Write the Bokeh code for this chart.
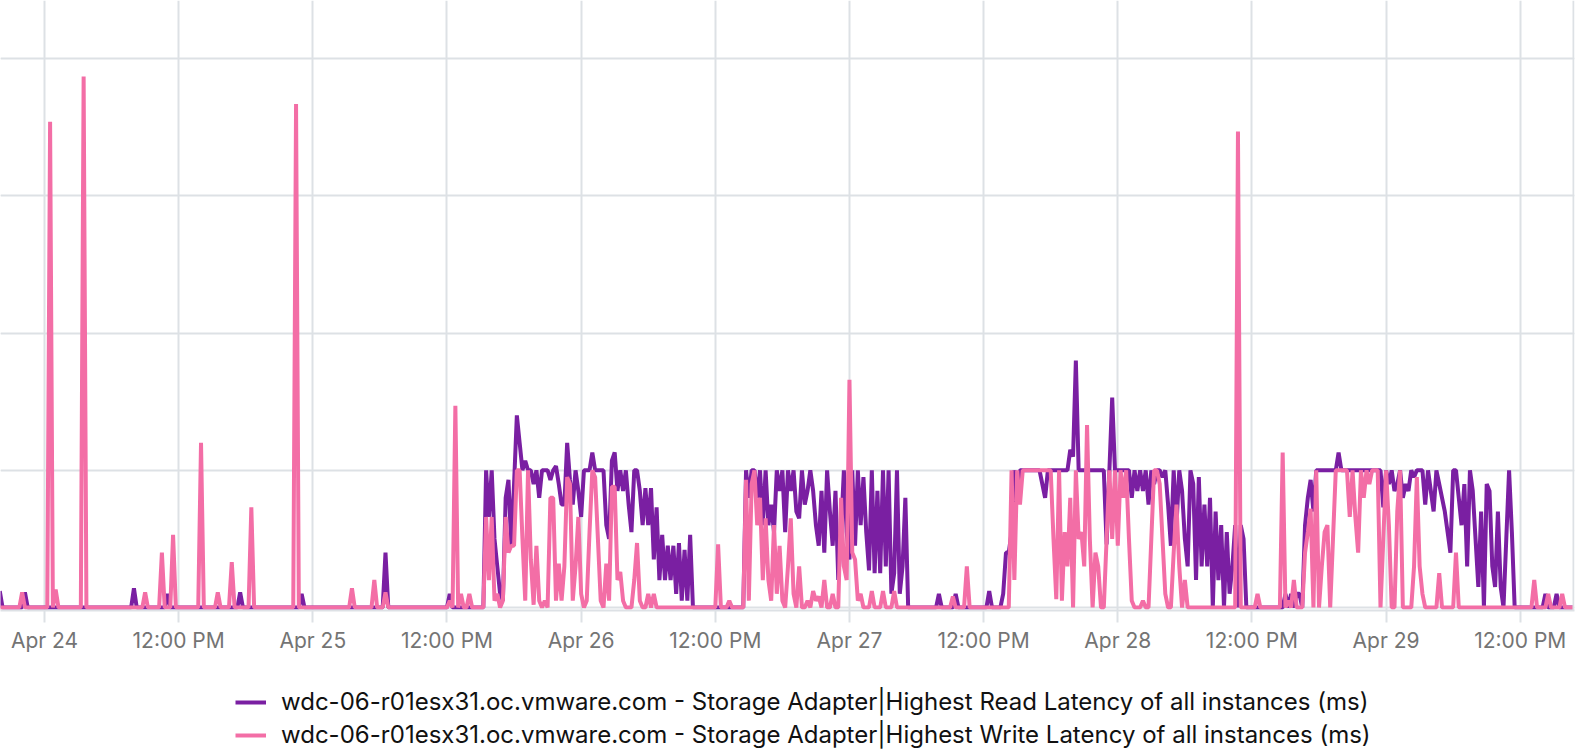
from datetime import datetime, timedelta
from bokeh.plotting import figure
from bokeh.layouts import column
from bokeh.models import ColumnDataSource, FixedTicker, Grid, Legend, LegendItem, Range1d, Span
from bokeh.embed import file_html
from bokeh.resources import INLINE

# ---------------- data (15-minute samples, grid unit = 1) ----------------
HOST = "wdc-06-r01esx31.oc.vmware.com"
read_label = HOST + " - Storage Adapter|Highest Read Latency of all instances (ms)"
write_label = HOST + " - Storage Adapter|Highest Write Latency of all instances (ms)"

tick_labels = ["Apr 24", "12:00 PM", "Apr 25", "12:00 PM", "Apr 26", "12:00 PM",
               "Apr 27", "12:00 PM", "Apr 28", "12:00 PM", "Apr 29", "12:00 PM"]

# Apr 23, from 20:00
read_apr23 = [0.12, 0, 0, 0, 0, 0, 0, 0, 0, 0.11, 0, 0, 0, 0, 0, 0]
write_apr23 = [0, 0, 0, 0, 0, 0, 0, 0, 0.11, 0, 0, 0, 0, 0, 0, 0]

read_apr24 = [
    0, 0, 0, 0, 0, 0, 0, 0, 0, 0, 0, 0, 0, 0, 0, 0,
    0, 0, 0, 0, 0, 0, 0, 0, 0, 0, 0, 0, 0, 0, 0, 0,
    0.14, 0, 0, 0, 0, 0, 0, 0, 0, 0, 0, 0, 0.1, 0, 0, 0,
    0, 0, 0, 0, 0, 0, 0, 0, 0, 0, 0, 0, 0, 0, 0, 0,
    0, 0, 0, 0, 0, 0, 0.11, 0, 0, 0, 0, 0, 0, 0, 0, 0,
    0, 0, 0, 0, 0, 0, 0, 0, 0, 0, 0, 0, 0.1, 0, 0, 0]
write_apr24 = [
    0, 0, 3.54, 0, 0.13, 0, 0, 0, 0, 0, 0, 0, 0, 0, 3.87, 0,
    0, 0, 0, 0, 0, 0, 0, 0, 0, 0, 0, 0, 0, 0, 0, 0,
    0, 0, 0, 0, 0.11, 0, 0, 0, 0, 0, 0.4, 0, 0, 0, 0.53, 0,
    0, 0, 0, 0, 0, 0, 0, 0, 1.2, 0, 0, 0, 0, 0, 0.11, 0,
    0, 0, 0, 0.33, 0, 0, 0, 0, 0, 0, 0.73, 0, 0, 0, 0, 0,
    0, 0, 0, 0, 0, 0, 0, 0, 0, 0, 3.67, 0, 0, 0, 0, 0]

read_apr25 = [
    0, 0, 0, 0, 0, 0, 0, 0, 0, 0, 0, 0, 0, 0, 0, 0,
    0, 0, 0, 0, 0, 0, 0, 0, 0, 0, 0.4, 0, 0, 0, 0, 0,
    0, 0, 0, 0, 0, 0, 0, 0, 0, 0, 0, 0, 0, 0, 0, 0,
    0, 0.1, 0, 0, 0, 0, 0, 0, 0, 0, 0, 0, 0, 0, 1.0, 0.66,
    1.0, 0.5, 0.3, 0.1, 0.05, 0.8, 0.93, 0.45, 0.9, 1.4, 1.2, 1.0, 1.07, 1.0, 1.0, 0.9,
    1.0, 0.8, 1.0, 1.0, 1.0, 0.93, 1.0, 1.03, 0.9, 0.75, 0.75, 1.2, 0.93, 0.75, 1.0, 0.85]
write_apr25 = [
    0, 0, 0, 0, 0, 0, 0, 0, 0, 0, 0, 0, 0, 0, 0.14, 0,
    0, 0, 0, 0, 0, 0, 0.2, 0, 0, 0, 0.11, 0, 0, 0, 0, 0,
    0, 0, 0, 0, 0, 0, 0, 0, 0, 0, 0, 0, 0, 0, 0, 0,
    0, 0.05, 0, 1.47, 0, 0.1, 0, 0, 0.1, 0, 0, 0, 0, 0, 0.66, 0.2,
    0.66, 0.05, 0.1, 0, 0.05, 0.66, 0.4, 0.45, 0.45, 1.0, 1.0, 0.5, 0.05, 1.0, 0.35, 0.02,
    0.45, 0.05, 0, 0.05, 0, 0.8, 0.8, 0.05, 0.32, 0.05, 0.3, 0.95, 0.9, 0.05, 0.3, 0.66]

read_apr26 = [
    0.66, 1.0, 1.0, 1.0, 1.13, 1.0, 1.0, 1.0, 1.0, 0.6, 0.5, 1.07, 1.13, 0.85, 1.0, 0.85,
    1.0, 0.75, 0.55, 1.0, 1.0, 0.85, 0.6, 0.87, 0.6, 0.87, 0.35, 0.73, 0.2, 0.53, 0.2, 0.45,
    0.2, 0.45, 0.1, 0.47, 0.05, 0.42, 0.05, 0.53, 0, 0, 0, 0, 0, 0, 0, 0,
    0, 0, 0, 0, 0, 0, 0, 0, 0, 0, 0, 1.0, 0.8, 1.0, 1.0, 0.8,
    1.0, 0.6, 1.0, 0.6, 0.75, 0.55, 1.0, 0.85, 1.0, 0.55, 1.0, 0.85, 1.0, 0.7, 0.65, 1.0,
    0.75, 0.85, 1.0, 0.85, 0.6, 0.45, 0.85, 0.4, 1.0, 0.7, 0.45, 0.85, 0.2, 0.55, 1.0, 0.55]
write_apr26 = [
    0.1, 0, 0.05, 0.55, 1.0, 0.95, 0.5, 0.05, 0, 0.32, 0.05, 0.88, 0.88, 0.2, 0.26, 0.05,
    0, 0, 0, 0.2, 0.47, 0.05, 0, 0, 0.1, 0, 0.1, 0, 0, 0, 0, 0,
    0, 0, 0, 0, 0, 0, 0, 0, 0, 0, 0, 0, 0, 0, 0, 0,
    0, 0.46, 0, 0, 0, 0.05, 0, 0, 0, 0, 0, 0.93, 0.05, 0.9, 1.0, 0.6,
    0.8, 0.2, 0.65, 0.2, 0.05, 0.6, 0.1, 0.45, 0.05, 0, 0.3, 0.65, 0.1, 0, 0.3, 0,
    0, 0.05, 0, 0.12, 0.05, 0.08, 0, 0.2, 0, 0, 0.1, 0, 0, 0.8, 0.3, 0.2]

read_apr27 = [
    0.35, 1.0, 0.45, 1.0, 0.6, 0.95, 0.55, 0.27, 1.0, 0.25, 0.85, 0.25, 1.0, 0.3, 1.0, 0.1,
    0.25, 1.0, 0.1, 0.3, 0.8, 0, 0, 0, 0, 0, 0, 0, 0, 0, 0, 0,
    0.1, 0, 0, 0, 0, 0, 0.1, 0, 0, 0, 0, 0, 0, 0, 0, 0,
    0, 0, 0.12, 0, 0, 0, 0, 0.1, 0.4, 0.4, 0.55, 1.0, 0.85, 1.0, 1.0, 1.0,
    1.0, 1.0, 1.0, 1.0, 1.0, 0.9, 0.8, 1.0, 1.0, 1.0, 1.0, 1.0, 1.0, 1.0, 1.0, 1.15,
    1.1, 1.8, 1.0, 1.0, 1.0, 1.0, 1.0, 1.0, 1.0, 1.0, 1.0, 1.0, 0.46, 1.0, 1.53, 1.0]
write_apr27 = [
    1.66, 0.4, 0.35, 0.05, 0.1, 0, 0, 0, 0.12, 0, 0, 0, 0.12, 0, 0, 0,
    0.12, 0, 0, 0, 0, 0, 0, 0, 0, 0, 0, 0, 0, 0, 0, 0,
    0, 0, 0, 0, 0, 0.08, 0, 0, 0, 0, 0.3, 0, 0, 0, 0, 0,
    0, 0, 0, 0, 0, 0, 0, 0, 0, 0, 1.0, 0.2, 1.0, 0.75, 1.0, 1.0,
    1.0, 1.0, 1.0, 1.0, 1.0, 1.0, 1.0, 1.0, 1.0, 0.5, 0.06, 1.0, 0.05, 0.55, 0.3, 0.8,
    0, 1.0, 0.5, 0.55, 0.3, 1.33, 0.5, 0, 0.4, 0.3, 0, 0, 0.5, 1.0, 0.5, 1.0]

read_apr28 = [
    1.0, 1.0, 1.0, 1.0, 1.0, 0.8, 1.0, 0.85, 1.0, 0.85, 1.0, 0.75, 1.0, 0.9, 1.0, 1.0,
    0.95, 1.0, 0.75, 0.45, 1.0, 0.6, 1.0, 0.85, 0.5, 0.3, 1.0, 0.9, 0.2, 0.95, 0.3, 0.75,
    0.3, 0.8, 0, 0.7, 0.2, 0.6, 0, 0.55, 0.1, 0.3, 0.6, 0, 0.6, 0.5, 0, 0,
    0, 0, 0, 0, 0, 0, 0, 0, 0, 0, 0, 0, 0.1, 0, 0.1, 0,
    0.1, 0.1, 0, 0.6, 0.8, 0.93, 0.7, 1.0, 1.0, 1.0, 1.0, 1.0, 1.0, 1.0, 1.0, 1.13,
    1.0, 1.0, 1.0, 1.0, 1.0, 1.0, 1.0, 1.0, 1.0, 1.0, 1.0, 1.0, 1.0, 1.0, 1.0, 0.73]
write_apr28 = [
    0.45, 1.0, 0.8, 1.0, 0.5, 0.05, 0, 0, 0, 0.05, 0, 0, 0.5, 1.0, 1.0, 0.9,
    0.5, 0.1, 0, 0, 0.4, 0.75, 0.3, 0, 0.2, 0, 0, 0, 0, 0, 0, 0,
    0, 0, 0, 0, 0, 0, 0, 0, 0, 0, 0, 3.47, 0, 0, 0, 0,
    0, 0, 0.1, 0, 0, 0, 0, 0, 0, 0, 0, 1.13, 0, 0.05, 0, 0.2,
    0, 0, 0, 0.4, 0.55, 0.72, 0, 1.0, 0, 0.3, 0.55, 0.6, 0, 0.5, 1.0, 1.0,
    1.0, 1.0, 1.0, 0.66, 1.0, 0.66, 0.4, 1.0, 0.8, 1.0, 0.9, 1.0, 1.0, 1.0, 0, 0.5]

# Apr 29, until 16:45
read_apr29 = [
    1.0, 0.9, 1.0, 0.85, 0.9, 1.0, 0.8, 0.9, 0.85, 1.0, 0.95, 1.0, 1.0, 1.0, 0.75, 1.0,
    0.85, 0.7, 1.0, 0.9, 0.8, 0.7, 0.55, 0.4, 1.0, 1.0, 0.8, 0.6, 0.9, 0.3, 1.0, 0.85,
    0.5, 0.15, 0.7, 0, 0.9, 0.85, 0.3, 0.15, 0.7, 0.15, 0, 0.5, 1.0, 0.55, 0, 0,
    0, 0, 0, 0, 0, 0, 0, 0, 0, 0.1, 0, 0, 0, 0.1, 0, 0,
    0, 0, 0, 0]
write_apr29 = [
    1.0, 0.6, 0, 0, 0.7, 1.0, 0, 0, 0, 0, 0.3, 0.95, 0.3, 0.1, 0, 0,
    0, 0, 0, 0.25, 0, 0, 0, 0, 0, 0.4, 0, 0, 0, 0, 0, 0,
    0, 0, 0, 0, 0, 0, 0, 0, 0, 0, 0, 0, 0, 0, 0, 0,
    0, 0, 0, 0, 0, 0.2, 0, 0, 0, 0, 0.1, 0, 0, 0, 0, 0.1,
    0, 0, 0, 0]

day_starts = [datetime(2023, 4, 23, 20, 0), datetime(2023, 4, 24), datetime(2023, 4, 25),
              datetime(2023, 4, 26), datetime(2023, 4, 27), datetime(2023, 4, 28),
              datetime(2023, 4, 29)]
read_days = [read_apr23, read_apr24, read_apr25, read_apr26, read_apr27, read_apr28, read_apr29]
write_days = [write_apr23, write_apr24, write_apr25, write_apr26, write_apr27, write_apr28, write_apr29]

# ---------------- assemble ----------------
EPOCH = datetime(1970, 1, 1)


def ms(d):
    return (d - EPOCH).total_seconds() * 1000.0


t, rv, wv = [], [], []
for start, rd, wd in zip(day_starts, read_days, write_days):
    assert len(rd) == len(wd)
    for k in range(len(rd)):
        t.append(ms(start + timedelta(minutes=15 * k)))
        rv.append(rd[k])
        wv.append(wd[k])

tick_times = [datetime(2023, 4, 24) + timedelta(hours=12 * k) for k in range(len(tick_labels))]

PURPLE = "#7a1fa2"
PINK = "#f36ea6"
GRID = "#dde1e5"
FONT = "Inter"
LW = 4

PX_PER_HOUR = 11.18
FRAME_W, FRAME_H = 1574, 610
x_start = tick_times[0] - timedelta(hours=44 / PX_PER_HOUR)
x_end = x_start + timedelta(hours=FRAME_W / PX_PER_HOUR)
PX_PER_UNIT = 137.2
y_start = -3 / PX_PER_UNIT
y_end = (FRAME_H - 3) / PX_PER_UNIT

p = figure(frame_width=FRAME_W, frame_height=FRAME_H, x_axis_type="datetime",
           y_axis_location=None,
           x_range=Range1d(ms(x_start), ms(x_end)), y_range=Range1d(y_start, y_end),
           output_backend="svg", toolbar_location=None,
           min_border_left=0, min_border_right=2, min_border_top=0, min_border_bottom=60)
p.outline_line_color = None
p.background_fill_color = "white"
p.border_fill_color = "white"

p.add_layout(Grid(dimension=1, ticker=FixedTicker(ticks=[0, 1, 2, 3, 4]),
                  grid_line_color=GRID, grid_line_width=2))

ax = p.xaxis[0]
ax.ticker = FixedTicker(ticks=[ms(d) for d in tick_times])
ax.major_label_overrides = {ms(d): lab for d, lab in zip(tick_times, tick_labels)}
ax.minor_tick_line_color = None
ax.major_tick_in = 0
ax.major_tick_out = 12
ax.major_tick_line_color = GRID
ax.major_tick_line_width = 2
ax.axis_line_color = GRID
ax.axis_line_width = 2
ax.major_label_text_font = FONT
ax.major_label_text_font_size = "21px"
ax.major_label_text_color = "#747474"
ax.major_label_standoff = 5
p.xgrid.grid_line_color = GRID
p.xgrid.grid_line_width = 2

edge = x_start + timedelta(hours=(FRAME_W - 1) / PX_PER_HOUR)
p.add_layout(Span(location=ms(edge), dimension="height", line_color=GRID, line_width=2))

src = ColumnDataSource(dict(t=t, read=rv, write=wv))
r_read = p.line("t", "read", source=src, line_color=PURPLE, line_width=LW)
r_write = p.line("t", "write", source=src, line_color=PINK, line_width=LW)

# ---------------- legend strip below the chart ----------------
# same series, drawn in a strip whose ranges keep them out of view, so only the legend shows
lf = figure(width=1576, height=86, x_range=Range1d(0, 1), y_range=Range1d(0, 1),
            x_axis_location=None, y_axis_location=None, output_backend="svg",
            toolbar_location=None, min_border=0)
lf.outline_line_color = None
lf.grid.visible = False
lf_read = lf.line("t", "read", source=src, line_color=PURPLE, line_width=LW)
lf_write = lf.line("t", "write", source=src, line_color=PINK, line_width=LW)
legend = Legend(items=[LegendItem(label=read_label, renderers=[lf_read]),
                       LegendItem(label=write_label, renderers=[lf_write])],
                location=(235, 7), orientation="vertical", margin=0, padding=0, spacing=4,
                glyph_width=31, glyph_height=26, label_height=26, label_standoff=15,
                label_text_font=FONT, label_text_font_size="24px", label_text_color="#111111",
                border_line_color=None, background_fill_alpha=0)
lf.add_layout(legend, "center")

layout = column(p, lf, spacing=0)
open("out.html", "w").write(file_html(layout, INLINE))
